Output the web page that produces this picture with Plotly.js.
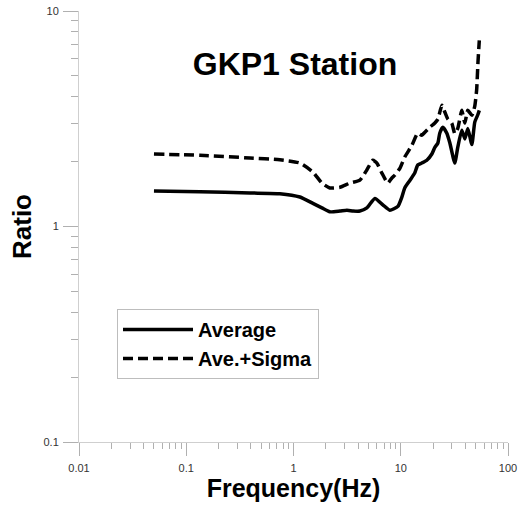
<!DOCTYPE html>
<html>
<head>
<meta charset="utf-8">
<script src="https://cdn.plot.ly/plotly-3.0.1.min.js"></script>
<style>html,body{margin:0;padding:0;background:#fff;}#chart{width:528px;height:510px;}</style>
</head>
<body>
<div id="chart"></div>
<script>
// Frequency (Hz) and ratio values
const avgFreq = [0.05, 0.134, 0.393, 0.746, 1.147, 1.517, 1.84, 2.18, 2.71, 3.15, 3.6, 4.16, 4.83, 5.74, 6.81, 7.91, 9.40, 10.24, 10.9, 12.2, 13.5, 14.4, 15.7, 17.5, 19.5, 20.8, 22.2, 23.1, 24.7, 26.9, 28.7, 31.9, 34.0, 37.1, 39.6, 42.2, 46.0, 49.0, 52.3, 54.0];
const avgRatio = [1.46, 1.45, 1.43, 1.42, 1.37, 1.28, 1.22, 1.17, 1.18, 1.19, 1.18, 1.18, 1.22, 1.35, 1.26, 1.19, 1.24, 1.37, 1.51, 1.64, 1.77, 1.93, 1.97, 2.03, 2.17, 2.33, 2.44, 2.71, 2.89, 2.71, 2.44, 1.97, 2.33, 2.80, 2.55, 2.85, 2.40, 3.05, 3.30, 3.46];
const sigFreq = [0.05, 0.134, 0.393, 0.746, 1.147, 1.517, 1.84, 2.18, 2.71, 3.36, 4.16, 4.83, 5.50, 5.99, 6.67, 7.58, 8.26, 8.81, 9.81, 10.9, 12.7, 14.4, 15.7, 16.8, 18.7, 20.8, 22.2, 24.2, 25.8, 27.5, 29.9, 31.9, 34.0, 37.1, 39.6, 42.2, 46.0, 49.0, 51.0, 52.5, 54.0];
const sigRatio = [2.17, 2.14, 2.08, 2.04, 1.97, 1.79, 1.59, 1.51, 1.52, 1.59, 1.64, 1.83, 2.03, 1.97, 1.77, 1.59, 1.68, 1.73, 1.86, 2.10, 2.38, 2.71, 2.65, 2.74, 2.89, 3.02, 3.15, 3.65, 3.39, 3.15, 3.02, 2.70, 2.85, 3.46, 3.02, 3.46, 3.28, 3.62, 4.3, 5.8, 7.3];
const xTickVals = [0.01, 0.1, 1, 10, 100];
const xTickText = ['0.01', '0.1', '1', '10', '100'];
const yTickVals = [0.1, 1, 10];
const yTickText = ['0.1', '1', '10'];

const traces = [
  {x: avgFreq, y: avgRatio, name: 'Average', mode: 'lines',
   line: {color: '#000', width: 3.5, shape: 'spline', smoothing: 0.5}},
  {x: sigFreq, y: sigRatio, name: 'Ave.+Sigma', mode: 'lines',
   line: {color: '#000', width: 3.5, dash: '10px,5px', shape: 'spline', smoothing: 0.5}}
];

const FAM = 'Liberation Sans, Arial, sans-serif';
const axisFont = {family: FAM, size: 11, color: '#333'};

const layout = {
  width: 528, height: 510,
  margin: {l: 79, r: 20, t: 11, b: 68},
  paper_bgcolor: '#fff', plot_bgcolor: '#fff',
  showlegend: true,
  title: {text: '<b>GKP1 Station</b>', font: {family: FAM, size: 32, color: '#000'},
          x: 295/528, xanchor: 'center', xref: 'container', y: 1 - 64/510, yanchor: 'middle', yref: 'container'},
  xaxis: {
    type: 'log', range: [-2, 2], showgrid: false, zeroline: false,
    showline: true, linecolor: '#cfcfcf', linewidth: 1,
    ticks: 'outside', ticklen: 13, tickcolor: '#b0b0b0', tickwidth: 1,
    tickvals: xTickVals, ticktext: xTickText, tickfont: axisFont, ticklabelstandoff: 3,
    minor: {ticks: 'outside', ticklen: 6, tickcolor: '#b0b0b0', dtick: 'D1', showgrid: false},
    title: {text: '<b>Frequency(Hz)</b>', font: {family: FAM, size: 25, color: '#000'}, standoff: 3}
  },
  yaxis: {
    type: 'log', range: [-1, 1], showgrid: false, zeroline: false,
    showline: true, linecolor: '#cfcfcf', linewidth: 1,
    ticks: 'outside', ticklen: 15, tickcolor: '#b0b0b0', tickwidth: 1,
    tickvals: yTickVals, ticktext: yTickText, tickfont: axisFont, ticklabelstandoff: 2,
    minor: {ticks: 'outside', ticklen: 7, tickcolor: '#b0b0b0', dtick: 'D1', showgrid: false},
    title: {text: '<b>Ratio</b>', font: {family: FAM, size: 26, color: '#000'}, standoff: 4}
  },
  legend: {
    x: (117 - 79) / 429, y: (442 - 309) / 431, xanchor: 'left', yanchor: 'top',
    bgcolor: '#fff', bordercolor: '#bdbdbd', borderwidth: 1,
    font: {family: FAM, size: 20, color: '#000', weight: 'bold'},
    itemwidth: 70, tracegroupgap: 0
  }
};

Plotly.newPlot('chart', traces, layout, {displayModeBar: false, staticPlot: true});
</script>
</body>
</html>
